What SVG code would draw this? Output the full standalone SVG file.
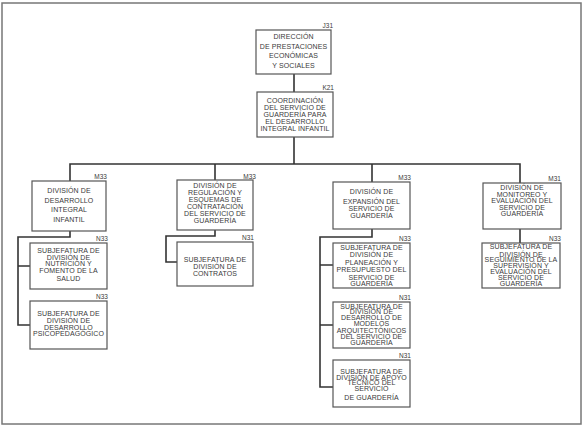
<svg xmlns="http://www.w3.org/2000/svg" width="583" height="428" viewBox="0 0 583 428">
<style>
.bx{fill:#fff;stroke:#555;stroke-width:1.2}
.t{font-family:"Liberation Sans",Arial,sans-serif;font-size:7px;letter-spacing:0.1px;fill:#3a3a3a;text-anchor:middle}
.lb{font-family:"Liberation Sans",Arial,sans-serif;font-size:6.5px;fill:#3a3a3a;text-anchor:end}
.c{fill:none;stroke:#333;stroke-width:1.6}
</style>
<rect x="2" y="3" width="579" height="421" fill="#fff" stroke="#777" stroke-width="1.5"/>
<g id="connectors">
<path class="c" d="M294 74V92M294 137V164M70 181V164H520V183M215 164V180M372 164V182"/>
<path class="c" d="M70 231V237H18V325H30M18 266H30"/>
<path class="c" d="M215 230V236H166V262H177"/>
<path class="c" d="M372 229V237H320V387H333M320 265H333M320 325H333"/>
<path class="c" d="M520 229V243"/>
</g>
<g id="J31">
<rect class="bx" x="256" y="30" width="75" height="44"/>
<text class="lb" x="333" y="28">J31</text>
<text class="t"><tspan x="293.5" y="39">DIRECCIÓN</tspan><tspan x="293.5" y="48.5">DE PRESTACIONES</tspan><tspan x="293.5" y="58">ECONÓMICAS</tspan><tspan x="293.5" y="67.5">Y SOCIALES</tspan></text>
</g>
<g id="K21">
<rect class="bx" x="257" y="92" width="76" height="45"/>
<text class="lb" x="334" y="90">K21</text>
<text class="t"><tspan x="295" y="103">COORDINACIÓN</tspan><tspan x="295" y="110">DEL SERVICIO DE</tspan><tspan x="295" y="117">GUARDERÍA PARA</tspan><tspan x="295" y="124">EL DESARROLLO</tspan><tspan x="295" y="131">INTEGRAL INFANTIL</tspan></text>
</g>
<g id="M33a">
<rect class="bx" x="32" y="181" width="74" height="50"/>
<text class="lb" x="107" y="179">M33</text>
<text class="t"><tspan x="69" y="193">DIVISIÓN DE</tspan><tspan x="69" y="203">DESARROLLO</tspan><tspan x="69" y="212">INTEGRAL</tspan><tspan x="69" y="222">INFANTIL</tspan></text>
</g>
<g id="M33b">
<rect class="bx" x="177" y="180" width="76" height="50"/>
<text class="lb" x="256" y="179">M33</text>
<text class="t"><tspan x="215" y="187.5">DIVISIÓN DE</tspan><tspan x="215" y="194.5">REGULACIÓN Y</tspan><tspan x="215" y="201.5">ESQUEMAS DE</tspan><tspan x="215" y="208.5">CONTRATACIÓN</tspan><tspan x="215" y="215.5">DEL SERVICIO DE</tspan><tspan x="215" y="222.5">GUARDERÍA</tspan></text>
</g>
<g id="M33c">
<rect class="bx" x="333" y="182" width="77" height="47"/>
<text class="lb" x="411" y="180">M33</text>
<text class="t"><tspan x="371.5" y="193.5">DIVISIÓN DE</tspan><tspan x="371.5" y="203.5">EXPANSIÓN DEL</tspan><tspan x="371.5" y="210.5">SERVICIO DE</tspan><tspan x="371.5" y="217.5">GUARDERÍA</tspan></text>
</g>
<g id="M31">
<rect class="bx" x="483" y="183" width="78" height="46"/>
<text class="lb" x="561" y="181">M31</text>
<text class="t"><tspan x="522" y="190">DIVISIÓN DE</tspan><tspan x="522" y="196.5">MONITOREO Y</tspan><tspan x="522" y="203">EVALUACIÓN DEL</tspan><tspan x="522" y="209.5">SERVICIO DE</tspan><tspan x="522" y="216">GUARDERÍA</tspan></text>
</g>
<g id="N33a">
<rect class="bx" x="30" y="243" width="77" height="46"/>
<text class="lb" x="108" y="241">N33</text>
<text class="t"><tspan x="68.5" y="252.5">SUBJEFATURA DE</tspan><tspan x="68.5" y="259.5">DIVISIÓN DE</tspan><tspan x="68.5" y="266">NUTRICIÓN Y</tspan><tspan x="68.5" y="273">FOMENTO DE LA</tspan><tspan x="68.5" y="280.5">SALUD</tspan></text>
</g>
<g id="N33b">
<rect class="bx" x="30" y="301" width="77" height="48"/>
<text class="lb" x="108" y="299">N33</text>
<text class="t"><tspan x="68.5" y="315.5">SUBJEFATURA DE</tspan><tspan x="68.5" y="322.5">DIVISIÓN DE</tspan><tspan x="68.5" y="329.5">DESARROLLO</tspan><tspan x="68.5" y="336">PSICOPEDAGÓGICO</tspan></text>
</g>
<g id="N31a">
<rect class="bx" x="177" y="242" width="76" height="44"/>
<text class="lb" x="254" y="240">N31</text>
<text class="t"><tspan x="215" y="261.5">SUBJEFATURA DE</tspan><tspan x="215" y="268.5">DIVISIÓN DE</tspan><tspan x="215" y="275.5">CONTRATOS</tspan></text>
</g>
<g id="N33c">
<rect class="bx" x="333" y="243" width="77" height="45"/>
<text class="lb" x="411" y="241">N33</text>
<text class="t"><tspan x="371.5" y="249.5">SUBJEFATURA DE</tspan><tspan x="371.5" y="256.5">DIVISIÓN DE</tspan><tspan x="371.5" y="264.5">PLANEACIÓN Y</tspan><tspan x="371.5" y="271.5">PRESUPUESTO DEL</tspan><tspan x="371.5" y="279.5">SERVICIO DE</tspan><tspan x="371.5" y="285.5">GUARDERÍA</tspan></text>
</g>
<g id="N31b">
<rect class="bx" x="333" y="302" width="77" height="46"/>
<text class="lb" x="411" y="300">N31</text>
<text class="t"><tspan x="371.5" y="308.5">SUBJEFATURA DE</tspan><tspan x="371.5" y="314">DIVISIÓN DE</tspan><tspan x="371.5" y="319.5">DESARROLLO DE</tspan><tspan x="371.5" y="325.5">MODELOS</tspan><tspan x="371.5" y="332.5">ARQUITECTÓNICOS</tspan><tspan x="371.5" y="338.5">DEL SERVICIO DE</tspan><tspan x="371.5" y="344.5">GUARDERÍA</tspan></text>
</g>
<g id="N31c">
<rect class="bx" x="333" y="360" width="77" height="47"/>
<text class="lb" x="411" y="358">N31</text>
<text class="t"><tspan x="371.5" y="373.5">SUBJEFATURA DE</tspan><tspan x="371.5" y="379.5">DIVISIÓN DE APOYO</tspan><tspan x="371.5" y="385">TÉCNICO DEL</tspan><tspan x="371.5" y="390.5">SERVICIO</tspan><tspan x="371.5" y="400">DE GUARDERÍA</tspan></text>
</g>
<g id="N33d">
<rect class="bx" x="482" y="243" width="78" height="45"/>
<text class="lb" x="561" y="241">N33</text>
<text class="t"><tspan x="521" y="248.5">SUBJEFATURA DE</tspan><tspan x="521" y="256.5">DIVISIÓN DE</tspan><tspan x="521" y="262">SEGUIMIENTO DE LA</tspan><tspan x="521" y="268">SUPERVISIÓN Y</tspan><tspan x="521" y="274">EVALUACIÓN DEL</tspan><tspan x="521" y="280">SERVICIO DE</tspan><tspan x="521" y="286">GUARDERÍA</tspan></text>
</g>
</svg>
